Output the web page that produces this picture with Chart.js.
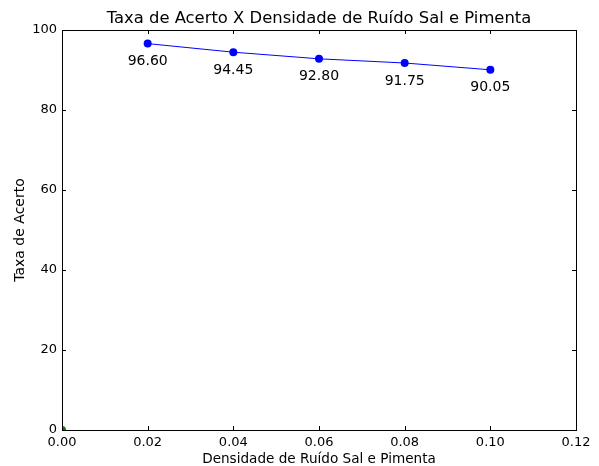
<!DOCTYPE html>
<html>
<head>
<meta charset="utf-8">
<script src="https://cdn.jsdelivr.net/npm/chart.js@4"></script>
<style>
  body { margin: 0; background: #fff; }
  #wrap { width: 599px; height: 466px; }
</style>
</head>
<body>
<div id="wrap"><canvas id="chart"></canvas></div>
<script>
// data
const densidades = [0.02, 0.04, 0.06, 0.08, 0.10];
const taxas = [96.60, 94.45, 92.80, 91.75, 90.05];
const origemX = [0];
const origemY = [0];

const TITULO = "Taxa de Acerto X Densidade de Ruído Sal e Pimenta";
const FONT = "'DejaVu Sans', sans-serif";

// ======================
// frame + inward ticks (old matplotlib look)
// ======================
const frameTicks = {
    id: "frameTicks",
    afterDatasetsDraw(chart) {
        const { ctx, chartArea: a, scales } = chart;
        const len = 4;
        ctx.save();
        ctx.strokeStyle = "#000";
        ctx.lineWidth = 1;
        ctx.beginPath();
        scales.x.ticks.forEach(t => {
            const px = Math.round(scales.x.getPixelForValue(t.value)) + 0.5;
            ctx.moveTo(px, a.bottom); ctx.lineTo(px, a.bottom - len);
            ctx.moveTo(px, a.top); ctx.lineTo(px, a.top + len);
        });
        scales.y.ticks.forEach(t => {
            const py = Math.round(scales.y.getPixelForValue(t.value)) + 0.5;
            ctx.moveTo(a.left, py); ctx.lineTo(a.left + len, py);
            ctx.moveTo(a.right, py); ctx.lineTo(a.right - len, py);
        });
        ctx.stroke();
        ctx.strokeRect(Math.round(a.left) + 0.5, Math.round(a.top) + 0.5,
            Math.round(a.right - a.left), Math.round(a.bottom - a.top));

        // title centred over the plot area
        ctx.font = "16.4px " + FONT;
        ctx.fillStyle = "#000";
        ctx.textAlign = "center";
        ctx.textBaseline = "middle";
        ctx.fillText(TITULO, (a.left + a.right) / 2, 19);
        ctx.restore();
    }
};

// ======================
// value labels under the points
// ======================
const valueLabels = {
    id: "valueLabels",
    afterDatasetsDraw(chart) {
        const { ctx, scales } = chart;
        ctx.save();
        ctx.font = "14px " + FONT;
        ctx.fillStyle = "#000";
        ctx.textAlign = "center";
        ctx.textBaseline = "middle";
        densidades.forEach((d, i) => {
            const px = scales.x.getPixelForValue(d);
            const py = scales.y.getPixelForValue(taxas[i]);
            ctx.fillText(taxas[i].toFixed(2), px, py + 18);
        });
        ctx.restore();
    }
};

new Chart(document.getElementById("chart"), {
    type: "line",
    data: {
        datasets: [
            {
                data: densidades.map((d, i) => ({ x: d, y: taxas[i] })),
                borderColor: "#0000ff",
                backgroundColor: "#0000ff",
                borderWidth: 1,
                pointRadius: 4,
                pointBorderWidth: 0,
                pointBackgroundColor: "#0000ff"
            },
            {
                data: origemX.map((d, i) => ({ x: d, y: origemY[i] })),
                showLine: false,
                pointRadius: 4,
                pointBorderWidth: 0,
                pointBackgroundColor: "#008000",
                clip: 0
            }
        ]
    },
    options: {
        responsive: true,
        maintainAspectRatio: false,
        animation: false,
        layout: { padding: { left: 0, right: 23, top: 30, bottom: 0 } },
        plugins: {
            legend: { display: false },
            tooltip: { enabled: false },
            title: { display: false }
        },
        scales: {
            x: {
                type: "linear",
                min: 0,
                max: 0.12,
                grid: { display: false, drawTicks: false },
                border: { display: false },
                ticks: {
                    stepSize: 0.02,
                    padding: 5,
                    color: "#000",
                    font: { family: FONT, size: 13 },
                    maxRotation: 0,
                    callback: v => v.toFixed(2)
                },
                title: {
                    display: true,
                    text: "Densidade de Ruído Sal e Pimenta",
                    color: "#000",
                    font: { family: FONT, size: 13.6 },
                    padding: { top: 0, bottom: -2 }
                },
                afterFit: s => { s.height = 36; }
            },
            y: {
                min: 0,
                max: 100,
                grid: { display: false, drawTicks: false },
                border: { display: false },
                ticks: {
                    stepSize: 20,
                    padding: 5,
                    color: "#000",
                    font: { family: FONT, size: 13 }
                },
                title: {
                    display: true,
                    text: "Taxa de Acerto",
                    color: "#000",
                    font: { family: FONT, size: 14 },
                    padding: { top: 12, bottom: 0 }
                },
                afterFit: s => { s.width = 62; }
            }
        }
    },
    plugins: [frameTicks, valueLabels]
});
</script>
</body>
</html>
